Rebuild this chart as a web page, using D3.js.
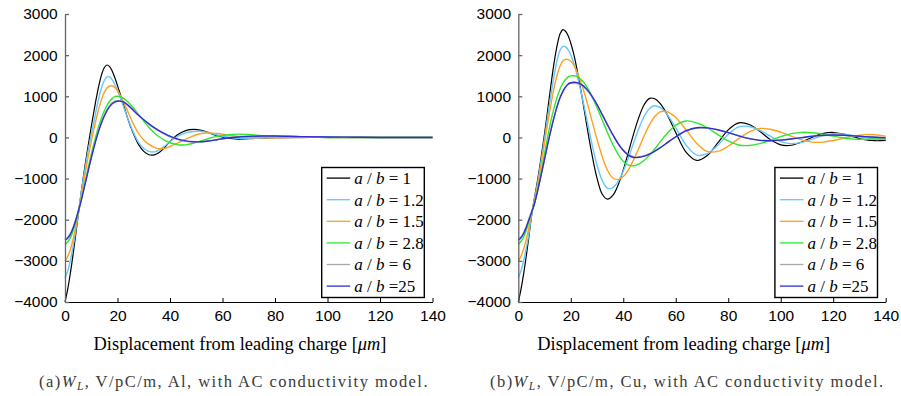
<!DOCTYPE html>
<html>
<head>
<meta charset="utf-8">
<script src="https://cdn.jsdelivr.net/npm/d3@7"></script>
<style>
  body { margin: 0; background: #fff; }
  svg { display: block; }
</style>
</head>
<body>
<script>
// legend entries and line colours
const ratioLabels = ["1", "1.2", "1.5", "2.8", "6", "25"];
const lineColors = ["#000000", "#62c8ff", "#ffa01e", "#2ee82e", "#a8a8a8", "#2f2fd2"];
const xTicks = [0, 20, 40, 60, 80, 100, 120, 140];
const yTicks = [-4000, -3000, -2000, -1000, 0, 1000, 2000, 3000];

// (a) Al, displacement in um
const alX = [0,1,2,3,4,5,6,7,8,9,10,11,12,13,14,15,16,17,18,19,20,
  22,24,26,28,30,32,34,36,38,40,43,46,49,52,55,58,62,66,70,75,80,90,100,110,120,130,140];
const alR1 = [-4000,-3700,-3320,-2880,-2400,-1900,-1420,-960,-530,-130,260,630,980,1290,1540,1700,1760,1720,1610,1450,1260,
  860,440,100,-170,-340,-420,-425,-360,-240,-100,70,165,195,170,110,40,-20,-40,-30,-15,-5,0,0,0,0,0,0];
const alR1_2 = [-3420,-3250,-3000,-2680,-2300,-1870,-1420,-1000,-620,-260,60,380,700,990,1220,1390,1470,1470,1400,1280,1140,
  800,450,130,-120,-270,-340,-350,-300,-210,-100,30,110,145,150,110,60,10,-20,-25,-15,-5,0,0,0,0,0,0];
const alR1_5 = [-3000,-2900,-2730,-2500,-2210,-1870,-1500,-1130,-760,-420,-100,200,480,730,940,1100,1200,1250,1250,1210,1140,
  900,620,330,100,-60,-170,-240,-275,-265,-220,-130,-40,40,95,110,95,60,25,0,-10,-8,0,0,0,0,0,0];
const alR2_8 = [-2600,-2540,-2440,-2290,-2090,-1850,-1570,-1280,-980,-690,-410,-150,90,300,490,650,780,880,950,990,1000,
  960,860,720,560,400,240,110,10,-70,-130,-180,-180,-140,-80,-20,25,65,80,70,45,25,5,0,0,0,0,0];
const alR6 = [-2480,-2430,-2340,-2200,-2010,-1790,-1560,-1290,-1020,-750,-480,-230,0,210,390,545,670,770,840,880,895,
  880,790,665,540,425,320,225,145,75,15,-50,-95,-110,-105,-82,-50,-10,15,28,35,33,18,8,3,0,0,0];
const alR25 = [-2500,-2450,-2360,-2220,-2030,-1810,-1580,-1310,-1040,-770,-500,-250,-20,190,370,520,650,750,820,860,880,
  870,780,660,540,430,330,240,160,90,30,-40,-85,-105,-105,-85,-55,-15,10,25,35,35,20,10,5,0,0,0];

// (b) Cu, displacement in um
const cuX = [0,1,2,3,4,5,6,7,8,9,10,11,12,13,14,15,16,17,18,19,20,21,22,
  24,26,28,30,32,34,36,38,40,42,44,46,48,50,52,54,56,58,60,
  64,68,72,76,80,84,88,92,96,100,104,108,112,116,120,124,128,132,136,140];
const cuR1 = [-4000,-3700,-3330,-2900,-2430,-1930,-1530,-1170,-780,-350,90,570,1060,1540,1960,2300,2530,2620,2580,2470,2290,2060,1770,
  1090,330,-390,-990,-1380,-1500,-1410,-1160,-790,-350,100,500,800,950,940,830,640,390,120,
  -365,-560,-440,-135,185,355,315,150,-50,-180,-190,-110,5,95,120,80,10,-55,-80,-70];
const cuR1_2 = [-3420,-3250,-3010,-2700,-2360,-1900,-1560,-1230,-860,-450,-20,420,850,1260,1630,1930,2130,2215,2200,2130,2005,1830,1615,
  1080,470,-140,-670,-1050,-1235,-1220,-1075,-820,-485,-120,230,515,705,770,730,615,440,230,
  -190,-430,-395,-190,75,255,265,170,30,-100,-150,-120,-40,40,88,80,45,-5,-35,-35];
const cuR1_5 = [-3000,-2890,-2720,-2490,-2200,-1880,-1590,-1280,-920,-530,-130,270,650,1000,1310,1560,1750,1860,1900,1893,1850,1770,1650,
  1320,900,420,-50,-470,-800,-985,-1025,-950,-780,-535,-250,45,310,510,620,635,585,485,
  180,-145,-340,-340,-215,-30,135,218,200,128,30,-60,-115,-113,-76,-20,36,68,65,30];
const cuR2_8 = [-2600,-2530,-2420,-2260,-2060,-1850,-1630,-1370,-1070,-740,-390,-50,270,560,810,1020,1190,1320,1410,1470,1495,1500,1490,
  1400,1240,1005,725,420,115,-170,-405,-580,-675,-688,-643,-555,-430,-280,-115,45,185,300,
  400,355,235,70,-85,-183,-196,-150,-70,20,93,124,115,80,31,-14,-41,-45,-40,-30];
const cuR6 = [-2480,-2420,-2320,-2170,-1990,-1820,-1640,-1390,-1110,-815,-515,-215,70,335,580,795,970,1110,1215,1285,1315,1322,1318,
  1270,1160,995,790,550,305,70,-140,-305,-420,-470,-470,-445,-395,-330,-250,-160,-70,15,
  155,228,226,185,115,40,-25,-65,-74,-62,-36,-5,25,46,54,49,36,19,5,-8];
const cuR25 = [-2500,-2440,-2340,-2190,-2010,-1830,-1650,-1400,-1120,-830,-530,-230,60,330,580,800,980,1120,1230,1300,1330,1340,1338,
  1290,1180,1010,800,555,305,65,-150,-320,-435,-487,-483,-455,-405,-335,-255,-165,-72,17,
  163,236,231,187,117,39,-30,-72,-79,-65,-38,-5,27,50,58,52,38,20,5,-10];

const W = 901, H = 396;
const PLOT_TOP = 14, PLOT_BOTTOM = 302;

const svg = d3.select("body").append("svg")
    .attr("width", W)
    .attr("height", H)
    .attr("id", "chart");

svg.append("rect").attr("width", W).attr("height", H).attr("fill", "#fff");

function drawPanel(opts) {
    let x = d3.scaleLinear().domain([0, 140]).range([opts.left, opts.right]);
    let y = d3.scaleLinear().domain([-4000, 3000]).range([PLOT_BOTTOM, PLOT_TOP]);
    let g = svg.append("g");

    // lines, legend order, last one on top
    let line = d3.line()
        .x((d, i) => x(opts.xs[i]))
        .y(d => y(d))
        .curve(d3.curveCatmullRom.alpha(0.5));

    opts.series.forEach((vals, k) => {
        g.append("path")
            .attr("d", line(vals))
            .attr("fill", "none")
            .attr("stroke", lineColors[k])
            .attr("stroke-width", k == 0 ? 1.2 : 1.4);
    });

    // axes: left and bottom only, ticks pointing inward
    let xAxis = d3.axisBottom(x).tickValues(xTicks).tickFormat(d3.format("d"))
        .tickSizeInner(-4).tickSizeOuter(0).tickPadding(8.4);
    let yAxis = d3.axisLeft(y).tickValues(yTicks).tickFormat(d3.format("d"))
        .tickSizeInner(-4).tickSizeOuter(0).tickPadding(7.3);

    let gx = g.append("g").attr("transform", "translate(0," + PLOT_BOTTOM + ")").call(xAxis);
    let gy = g.append("g").attr("transform", "translate(" + opts.left + ",0)").call(yAxis);

    [gx, gy].forEach(a => {
        a.selectAll("text")
            .attr("font-family", "'Liberation Sans', Arial, Helvetica, sans-serif")
            .attr("font-size", 15.5)
            .attr("fill", "#000");
        a.attr("font-family", null).attr("font-size", null);
    });
    gx.selectAll("path, line").attr("stroke", "#000").attr("stroke-width", 1);
    gy.selectAll("path, line").attr("stroke", "#666").attr("stroke-width", 1.3);

    // legend
    let lx = opts.right - 110.8, ly = 167.5;
    let lg = g.append("g");
    lg.append("rect")
        .attr("x", lx).attr("y", ly)
        .attr("width", 102.6).attr("height", 130)
        .attr("fill", "#fff")
        .attr("stroke", "#000")
        .attr("stroke-width", 1.4);

    ratioLabels.forEach((lab, k) => {
        let cy = ly + 10.6 + k * 21.6;
        lg.append("line")
            .attr("x1", lx + 5).attr("x2", lx + 28.5)
            .attr("y1", cy).attr("y2", cy)
            .attr("stroke", lineColors[k])
            .attr("stroke-width", 1.3);
        let t = lg.append("text")
            .attr("x", lx + 32.5)
            .attr("y", cy + 5.8)
            .attr("font-family", "'Liberation Serif', 'Times New Roman', serif")
            .attr("font-size", 17)
            .attr("fill", "#000")
            .attr("xml:space", "preserve");
        t.append("tspan").attr("font-style", "italic").text("a");
        t.append("tspan").text(" / ");
        t.append("tspan").attr("font-style", "italic").text("b");
        t.append("tspan").text(lab == "25" ? " =25" : " = " + lab);
    });

    // axis title
    let ttl = g.append("text")
        .attr("x", opts.titleX)
        .attr("y", 349.5)
        .attr("text-anchor", "middle")
        .attr("font-family", "'Liberation Serif', 'Times New Roman', serif")
        .attr("font-size", 18.4)
        .attr("fill", "#000");
    ttl.append("tspan").text("Displacement from leading charge [");
    ttl.append("tspan").attr("font-style", "italic").text("\u03bcm");
    ttl.append("tspan").text("]");

    // caption
    let cap = g.append("text")
        .attr("x", opts.captionX)
        .attr("y", 386.5)
        .attr("font-family", "'Liberation Serif', 'Times New Roman', serif")
        .attr("font-size", 16.5)
        .attr("letter-spacing", 1.45)
        .attr("fill", "#3a3a3a");
    cap.append("tspan").text("(" + opts.tag + ")");
    cap.append("tspan").attr("font-style", "italic").text("W");
    cap.append("tspan").attr("font-style", "italic").attr("font-size", 11.5).attr("dy", 3).text("L");
    cap.append("tspan").attr("dy", -3).text(", V/pC/m, " + opts.metal + ", with AC conductivity model.");
}

drawPanel({
    left: 65, right: 432.5,
    xs: alX,
    series: [alR1, alR1_2, alR1_5, alR2_8, alR6, alR25],
    tag: "a", metal: "Al",
    titleX: 240, captionX: 39
});

drawPanel({
    left: 518.3, right: 885.7,
    xs: cuX,
    series: [cuR1, cuR1_2, cuR1_5, cuR2_8, cuR6, cuR25],
    tag: "b", metal: "Cu",
    titleX: 683.7, captionX: 490
});
</script>
</body>
</html>
